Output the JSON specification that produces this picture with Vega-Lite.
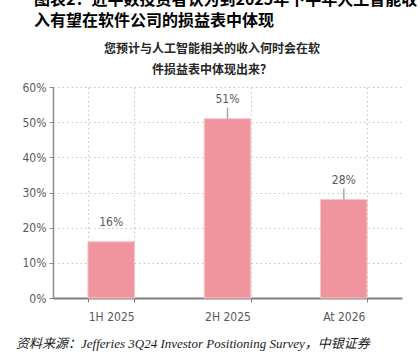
{
  "$schema": "https://vega.github.io/schema/vega-lite/v6.json",
  "background": "white",
  "padding": {"left": 16, "top": -8, "right": 0, "bottom": 0},
  "title": {
    "text": ["图表2：近半数投资者认为到2025年下半年人工智能收", "入有望在软件公司的损益表中体现"],
    "anchor": "start",
    "frame": "bounds",
    "dx": 18,
    "font": "Noto Sans CJK SC",
    "fontWeight": "bold",
    "fontSize": 16,
    "lineHeight": 21,
    "color": "#000000",
    "offset": 14
  },
  "vconcat": [
    {
      "title": {
        "text": "资料来源：Jefferies 3Q24 Investor Positioning Survey，中银证券",
        "orient": "bottom",
        "anchor": "start",
        "frame": "bounds",
        "dx": -6,
        "font": "Liberation Serif, Noto Sans CJK SC",
        "fontStyle": "italic",
        "fontWeight": "normal",
        "fontSize": 13,
        "color": "#1a1a1a",
        "offset": 16
      },
      "vconcat": [
        {
          "width": 349,
          "height": 211,
          "title": {
            "text": ["您预计与人工智能相关的收入何时会在软", "件损益表中体现出来？"],
            "anchor": "middle",
            "frame": "bounds",
            "font": "Noto Sans CJK SC",
            "fontWeight": "bold",
            "fontSize": 12,
            "lineHeight": 21,
            "color": "#262626",
            "offset": 4
          },
          "data": {
            "values": [
              {"period": "1H 2025", "share": 0.16},
              {"period": "2H 2025", "share": 0.51},
              {"period": "At 2026", "share": 0.28}
            ]
          },
          "encoding": {
            "x": {
              "field": "period",
              "type": "nominal",
              "sort": null,
              "scale": {"paddingInner": 0.6, "paddingOuter": 0.3},
              "axis": {
                "title": null,
                "labelAngle": 0,
                "tickBand": "extent",
                "grid": true,
                "gridDash": [1.5, 3],
                "gridColor": "#c4c4c4",
                "gridWidth": 1,
                "domainColor": "#808080",
                "domainWidth": 2,
                "tickColor": "#808080",
                "tickSize": 4,
                "tickWidth": 1,
                "labelPadding": 9,
                "labelFont": "DejaVu Sans Condensed, sans-serif",
                "labelFontSize": 12,
                "labelColor": "#595959"
              }
            },
            "y": {
              "field": "share",
              "type": "quantitative",
              "scale": {"domain": [0, 0.6], "nice": false},
              "axis": {
                "title": null,
                "format": ".0%",
                "values": [0, 0.1, 0.2, 0.3, 0.4, 0.5, 0.6],
                "grid": true,
                "gridDash": [1.5, 3],
                "gridColor": "#c4c4c4",
                "gridWidth": 1,
                "domainColor": "#8c8c8c",
                "domainWidth": 1.5,
                "tickColor": "#8c8c8c",
                "tickSize": 4,
                "labelPadding": 3,
                "labelFont": "DejaVu Sans Condensed, sans-serif",
                "labelFontSize": 12,
                "labelColor": "#595959"
              }
            }
          },
          "layer": [
            {
              "mark": {"type": "bar", "color": "#F0949E", "stroke": "#F8C6CB", "strokeWidth": 1}
            },
            {
              "transform": [{"filter": "datum.share > 0.2"}],
              "mark": {"type": "rule", "color": "#a6a6a6", "strokeWidth": 1.5, "y2Offset": -11},
              "encoding": {"y2": {"field": "share"}}
            },
            {
              "mark": {
                "type": "text",
                "dy": -20,
                "fontSize": 12,
                "color": "#595959",
                "font": "DejaVu Sans Condensed, sans-serif"
              },
              "encoding": {"text": {"field": "share", "type": "quantitative", "format": ".0%"}}
            }
          ]
        }
      ]
    }
  ],
  "config": {
    "view": {"stroke": null},
    "concat": {"spacing": 0}
  }
}
